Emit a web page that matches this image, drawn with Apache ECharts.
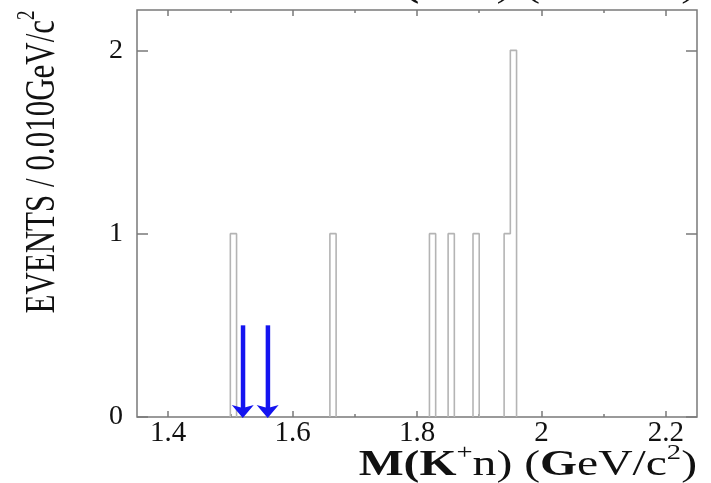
<!DOCTYPE html>
<html>
<head>
<meta charset="utf-8">
<script src="https://cdn.jsdelivr.net/npm/echarts@6/dist/echarts.min.js"></script>
<style>
  html, body { margin: 0; padding: 0; background: #fff; }
  #chart { width: 711px; height: 483px; }
</style>
</head>
<body>
<div id="chart"></div>
<script>
// histogram bins (lower edge, GeV/c^2) with non-zero content
const binLow = [1.50, 1.66, 1.82, 1.85, 1.89, 1.94, 1.95];
const binCount = [1, 1, 1, 1, 1, 1, 2];
const binWidth = 0.01;

// blue arrows
const arrowMass = [1.52, 1.56];
const arrowTop = [0.5, 0.5];

const xTicks = [1.4, 1.6, 1.8, 2.0, 2.2];
const xMinorTicks = [1.5, 1.7, 1.9, 2.1];
const yTicks = [0, 1, 2];

const serif = '"Liberation Serif", "DejaVu Serif", serif';
const frameColor = '#7a7a7a';

// step outline, broken at empty stretches so the baseline stays the axis colour
function stepPoints() {
  const pts = [];
  let prevHi = null;
  for (let i = 0; i < binLow.length; i++) {
    const lo = binLow[i];
    const hi = +(lo + binWidth).toFixed(4);
    if (prevHi === null || Math.abs(lo - prevHi) > 1e-6) {
      if (prevHi !== null) {
        pts.push([prevHi, 0]);
        pts.push(null);
      }
      pts.push([lo, 0]);
    }
    pts.push([lo, binCount[i]]);
    pts.push([hi, binCount[i]]);
    prevHi = hi;
  }
  pts.push([prevHi, 0]);
  return pts;
}

function xAxis(pos, values, len, labels) {
  return {
    type: 'value',
    position: pos,
    min: 1.35,
    max: 2.25,
    axisLine: { show: false },
    splitLine: { show: false },
    axisTick: {
      show: true,
      inside: true,
      length: len,
      customValues: values,
      lineStyle: { color: frameColor, width: 1.5 },
    },
    axisLabel: labels
      ? {
          show: true,
          customValues: values,
          margin: 2,
          color: '#111',
          fontFamily: serif,
          fontSize: 29,
        }
      : { show: false },
  };
}

function yAxis(pos, labels) {
  return {
    type: 'value',
    position: pos,
    min: 0,
    max: 2.22,
    axisLine: { show: false },
    splitLine: { show: false },
    axisTick: {
      show: true,
      inside: true,
      length: 11,
      customValues: yTicks,
      lineStyle: { color: frameColor, width: 1.5 },
    },
    axisLabel: labels
      ? {
          show: true,
          customValues: yTicks,
          margin: 14,
          color: '#111',
          fontFamily: serif,
          fontSize: 28,
        }
      : { show: false },
  };
}

// main tokens get top padding so the 'sup' tokens (aligned to the line top) sit raised
function titleRich(size, raise) {
  return {
    b: { fontFamily: serif, fontSize: size, fontWeight: 'bold', fill: '#111', padding: [raise, 0, 0, 0], verticalAlign: 'bottom' },
    n: { fontFamily: serif, fontSize: size, fill: '#111', padding: [raise, 0, 0, 0], verticalAlign: 'bottom' },
    sup: { fontFamily: serif, fontSize: Math.round(size * 0.6), fill: '#111', verticalAlign: 'top' },
  };
}

const massTitle = '{b|M(K}{sup|+}{n|n) (}{b|G}{n|eV/c}{sup|2}{n|)}';

const chart = echarts.init(document.getElementById('chart'));

const option = {
  animation: false,
  backgroundColor: '#fff',
  grid: {
    left: 137,
    right: 14,
    top: 10,
    bottom: 66,
    show: true,
    borderColor: frameColor,
    borderWidth: 1.5,
    backgroundColor: 'transparent',
  },
  xAxis: [
    xAxis('bottom', xTicks, 6, true),
    xAxis('bottom', xMinorTicks, 3, false),
    xAxis('top', xTicks, 6, false),
    xAxis('top', xMinorTicks, 3, false),
  ],
  yAxis: [yAxis('left', true), yAxis('right', false)],
  series: [
    {
      type: 'line',
      data: stepPoints(),
      connectNulls: false,
      showSymbol: false,
      symbol: 'none',
      lineStyle: { color: '#b4b4b4', width: 1.6 },
      z: 3,
    },
    {
      type: 'custom',
      data: arrowMass.map((m, i) => [m, arrowTop[i]]),
      z: 4,
      renderItem: function (params, api) {
        const top = api.coord([api.value(0), api.value(1)]);
        const bot = api.coord([api.value(0), 0]);
        const x = top[0];
        const headH = 12;
        const headW = 11;
        return {
          type: 'group',
          children: [
            {
              type: 'rect',
              shape: { x: x - 2, y: top[1], width: 4.5, height: bot[1] - top[1] - headH + 3 },
              style: { fill: '#1414f0' },
            },
            {
              type: 'polygon',
              shape: {
                points: [
                  [x - headW, bot[1] - headH],
                  [x, bot[1] - headH + 3],
                  [x + headW, bot[1] - headH],
                  [x, bot[1] + 1],
                ],
              },
              style: { fill: '#1414f0' },
            },
          ],
        };
      },
    },
  ],
  graphic: [
    {
      type: 'text',
      x: 697,
      y: 483,
      scaleX: 1.36,
      style: {
        text: massTitle,
        rich: titleRich(35, 5),
        align: 'right',
        verticalAlign: 'bottom',
      },
    },
    {
      type: 'text',
      x: 697,
      y: 4,
      scaleX: 1.36,
      style: {
        text: massTitle,
        rich: titleRich(35, 5),
        align: 'right',
        verticalAlign: 'bottom',
      },
    },
    {
      type: 'text',
      x: 39,
      y: 162,
      rotation: Math.PI / 2,
      scaleY: 1.35,
      style: {
        text: '{n|EVENTS / 0.010GeV/c}{sup|2}',
        rich: titleRich(31, 6),
        align: 'center',
        verticalAlign: 'middle',
      },
    },
  ],
};

chart.setOption(option);
</script>
</body>
</html>
